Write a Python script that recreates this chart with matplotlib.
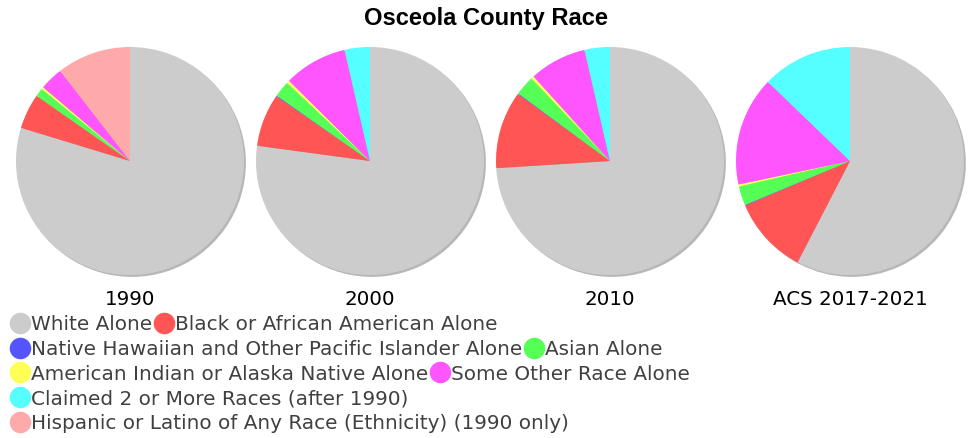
import matplotlib
matplotlib.use("Agg")
import matplotlib.pyplot as plt
from matplotlib.lines import Line2D

# race categories (legend order = wedge order, clockwise from 12 o'clock)
categories = [
    "White Alone",
    "Black or African American Alone",
    "Native Hawaiian and Other Pacific Islander Alone",
    "Asian Alone",
    "American Indian or Alaska Native Alone",
    "Some Other Race Alone",
    "Claimed 2 or More Races (after 1990)",
    "Hispanic or Latino of Any Race (Ethnicity) (1990 only)",
]
colors = ["#cccccc", "#ff5555", "#5555ff", "#55ff55",
          "#ffff55", "#ff55ff", "#55ffff", "#ffaaaa"]

years = ["1990", "2000", "2010", "ACS 2017-2021"]

# shares in percent
share_1990 = [79.7, 5.0, 0.0, 1.2, 0.3, 3.3, 0.0, 10.5]
share_2000 = [77.3, 7.5, 0.1, 2.3, 0.4, 9.0, 3.6, 0.0]
share_2010 = [74.0, 11.0, 0.1, 2.8, 0.4, 8.1, 3.6, 0.0]
share_acs = [57.6, 11.0, 0.1, 2.7, 0.3, 15.5, 12.8, 0.0]
shares = [share_1990, share_2000, share_2010, share_acs]

# how the legend wraps
legend_rows = [[0, 1], [2, 3], [4, 5], [6], [7]]

W, H = 972, 439
fig = plt.figure(figsize=(W / 100, H / 100), dpi=100)
fig.patch.set_facecolor("white")

fig.text(0.5, 1 - 18 / H, "Osceola County Race", ha="center", va="center",
         fontsize=17.1, fontweight="bold", family="Liberation Sans")

r_px = 114
box = 124
lim = box / r_px
for i, (lab, vals) in enumerate(zip(years, shares)):
    cx, cy = 130 + 240 * i, H - 162
    ax = fig.add_axes([(cx - box) / W, (cy - box) / H, 2 * box / W, 2 * box / H])
    ax.pie(vals, colors=colors, startangle=90, counterclock=False,
           wedgeprops=dict(linewidth=0),
           shadow=dict(ox=0.012, oy=-0.012, shade=0.45))
    ax.set_xlim(-lim, lim)
    ax.set_ylim(-lim, lim)
    ax.set_aspect("equal")
    ax.axis("off")
    ax.text(0, -1.12, lab, ha="center", va="top", fontsize=14.3,
            color="black", family="DejaVu Sans")

row_y = [325, 350, 374, 399, 424]
for row, y in zip(legend_rows, row_y):
    handles = [Line2D([], [], marker="o", linestyle="", markersize=15.5,
                      markerfacecolor=colors[k], markeredgewidth=0)
               for k in row]
    labels = [categories[k] for k in row]
    leg = fig.legend(handles, labels, loc="center left",
                     bbox_to_anchor=(9 / W, 1 - y / H), ncol=len(row),
                     frameon=False, borderpad=0, borderaxespad=0,
                     handlelength=1.1, handletextpad=0.02, columnspacing=0,
                     prop=dict(family="DejaVu Sans", size=14.4))
    for t in leg.get_texts():
        t.set_color("#404040")

fig.savefig("out.png", dpi=100)
